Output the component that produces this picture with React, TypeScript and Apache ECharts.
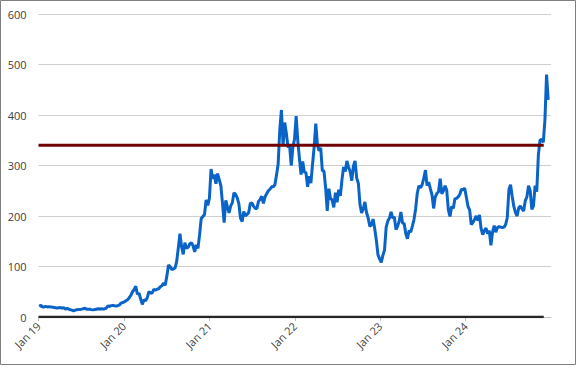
import React, { useEffect, useRef } from "react";
import * as echarts from "echarts";

// Weekly closes (Fridays)
const START_DATE = "2019-01-04";
const v2019 = [21, 23, 20, 20, 21, 20, 20.5, 19.7, 19.6, 19, 18.3, 17.6, 18.7, 18.5, 17.9, 18.2, 15.7, 17.1, 15.9, 14.2, 13.6, 12.3, 13.6, 14.3, 14.8, 14.9, 15.6, 16.5, 17.2, 15.2, 15.6, 15.2, 14.6, 14.1, 15.0, 15.2, 16.5, 16.0, 16.1, 15.9, 16.5, 17.4, 21.9, 20.9, 22.5, 23.0, 22.2, 21.9, 22.4, 23.8, 27.5, 28.7];
const v2020 = [30, 32, 34, 38, 43, 50, 54, 61, 45, 47, 36, 25, 34, 32, 38, 50, 48, 47, 55, 53, 55, 56, 60, 62, 67, 63, 81, 103, 100, 94, 95, 97, 110, 137, 165, 139, 124, 147, 136, 138, 145, 147, 141, 129, 143, 136, 163, 195, 199, 203, 232, 221];
const v2021 = [235, 293, 274, 282, 264, 284, 272, 260, 225, 187, 231, 218, 206, 220, 226, 246, 243, 236, 224, 196, 189, 209, 200, 203, 207, 225, 226, 219, 215, 215, 229, 233, 239, 225, 238, 244, 250, 253, 258, 258, 262, 281, 303, 371, 410, 340, 385, 364, 336, 339, 300, 336, 352];
const v2022 = [398, 349, 314, 282, 308, 287, 286, 258, 279, 265, 302, 337, 383, 341, 329, 335, 290, 289, 256, 210, 254, 234, 232, 217, 246, 227, 252, 240, 272, 297, 288, 309, 297, 288, 270, 299, 309, 275, 265, 223, 206, 214, 228, 207, 196, 180, 182, 194, 175, 152, 123, 115];
const v2023 = [108, 122, 133, 178, 190, 196, 208, 196, 198, 173, 180, 190, 208, 186, 185, 165, 155, 171, 168, 180, 193, 214, 245, 260, 256, 262, 275, 291, 260, 267, 254, 242, 215, 238, 245, 248, 274, 244, 250, 260, 251, 212, 199, 219, 215, 234, 235, 238, 243, 253, 252, 255];
const v2024 = [237, 219, 212, 183, 187, 193, 200, 191, 202, 175, 163, 171, 176, 165, 171, 142, 168, 181, 168, 177, 179, 178, 177, 178, 183, 197, 252, 262, 239, 219, 207, 200, 216, 220, 214, 210, 230, 238, 260, 250, 213, 220, 260, 248, 321, 350, 352, 346, 390, 480, 430];
const PRICES = [...v2019, ...v2020, ...v2021, ...v2022, ...v2023, ...v2024];

const THRESHOLD = 340;
const REF_LINE_START = "2019-01-01";
const REF_LINE_END = "2024-12-01";
const AXIS_MIN = "2019-01-01";
const AXIS_MAX = "2025-01-01";
const MONTHS = ["Jan", "Feb", "Mar", "Apr", "May", "Jun", "Jul", "Aug", "Sep", "Oct", "Nov", "Dec"];

const DAY = 24 * 3600 * 1000;
const toTs = (s: string) => {
  const [y, m, d] = s.split("-").map(Number);
  return new Date(y, m - 1, d).getTime();
};

export default function App() {
  const ref = useRef<HTMLDivElement>(null);
  useEffect(() => {
    if (!ref.current) return;
    const chart = echarts.init(ref.current, null, { renderer: "svg" });
    const start = toTs(START_DATE);
    const priceData = PRICES.map((v, i) => [start + i * 7 * DAY, v]);
    chart.setOption({
      animation: false,
      backgroundColor: "#ffffff",
      textStyle: { fontFamily: "Open Sans" },
      grid: { left: 38.5, right: 27, top: 14, bottom: 50, containLabel: false },
      xAxis: {
        type: "time",
        min: toTs(AXIS_MIN),
        max: toTs(AXIS_MAX),
        minInterval: 365 * DAY,
        maxInterval: 366 * DAY,
        splitLine: { show: false },
        axisLine: { show: true, lineStyle: { color: "#bfbfbf", width: 1 } },
        axisTick: { show: true, length: 4, lineStyle: { color: "#bfbfbf" } },
        axisLabel: {
          rotate: 45,
          margin: 7,
          color: "#404040",
          fontSize: 11,
          fontFamily: "Open Sans",
          showMaxLabel: false,
          hideOverlap: false,
          formatter: (val: number) => {
            const d = new Date(val);
            return MONTHS[d.getMonth()] + " " + String(d.getFullYear()).slice(2);
          },
        },
      },
      yAxis: {
        type: "value",
        min: 0,
        max: 600,
        interval: 100,
        axisLine: { show: false },
        axisTick: { show: false },
        splitLine: { lineStyle: { color: "#cfcfcf", width: 1 } },
        axisLabel: { color: "#404040", fontSize: 11, margin: 12, fontFamily: "Open Sans" },
      },
      graphic: [
        {
          type: "rect",
          shape: { x: 0.5, y: 0.5, width: 575, height: 364 },
          style: { fill: "none", stroke: "#808080", lineWidth: 1 },
          silent: true,
          z: 100,
        },
      ],
      series: [
        {
          name: "Baseline",
          type: "line",
          data: [
            [toTs(REF_LINE_START), 0],
            [toTs(REF_LINE_END), 0],
          ],
          symbol: "none",
          lineStyle: { color: "#262626", width: 2.5 },
          silent: true,
          z: 1,
        },
        {
          name: "Price",
          type: "line",
          data: priceData,
          symbol: "none",
          lineStyle: { color: "#0a64c8", width: 3 },
          z: 2,
        },
        {
          name: "Threshold",
          type: "line",
          data: [
            [toTs(REF_LINE_START), THRESHOLD],
            [toTs(REF_LINE_END), THRESHOLD],
          ],
          symbol: "none",
          lineStyle: { color: "#6e0000", width: 3 },
          silent: true,
          z: 3,
        },
      ],
    });
    return () => chart.dispose();
  }, []);
  return (
    <div
      ref={ref}
      style={{ position: "fixed", left: 0, top: 0, width: 578, height: 367 }}
    />
  );
}
